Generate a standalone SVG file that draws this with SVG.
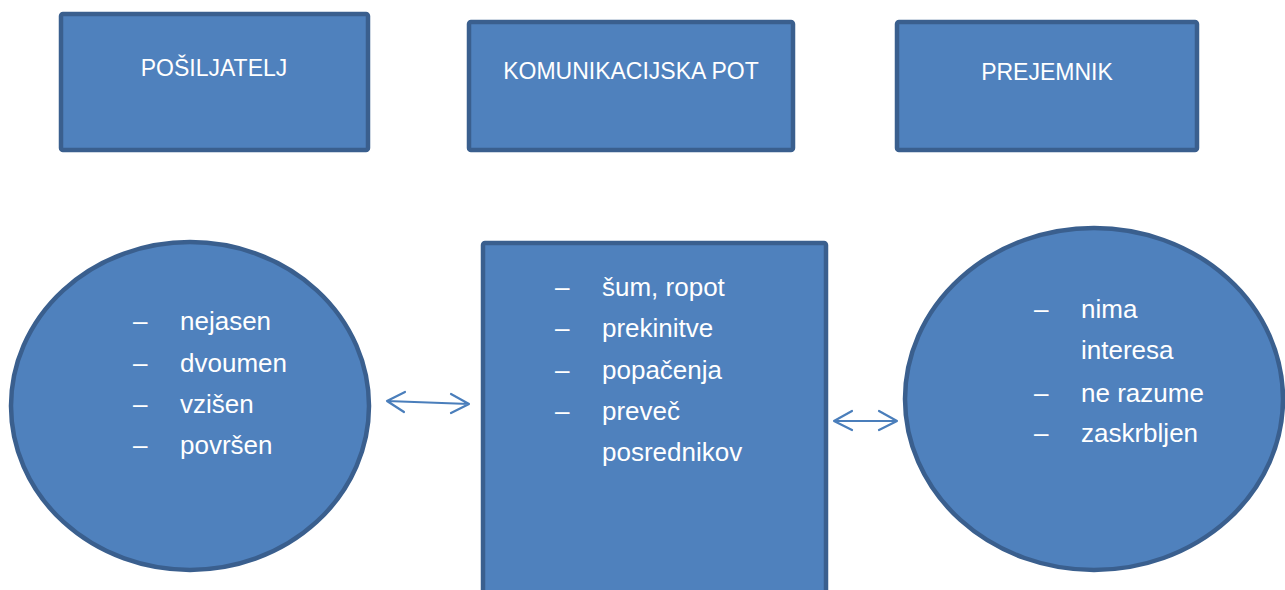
<svg xmlns="http://www.w3.org/2000/svg" width="1285" height="590" viewBox="0 0 1285 590">
<style>
.shape{fill:#4F81BD;stroke:#3A5F8E;stroke-width:4.5}
.t{fill:#FFFFFF;font-family:"Liberation Sans",Arial,sans-serif}
.h{font-size:23px;text-anchor:middle}
.b{font-size:26px}
.conn{fill:none;stroke:#4A7EBB;stroke-width:2.2;stroke-linecap:round;stroke-linejoin:round}
</style>
<rect width="1285" height="590" fill="#FFFFFF"/>
<g id="posiljatelj">
<rect class="shape" x="61" y="14" width="307" height="136" rx="2"/>
<text class="t h" x="214" y="76">POŠILJATELJ</text>
</g>
<g id="komunikacijska-pot">
<rect class="shape" x="469" y="22" width="324" height="128" rx="2"/>
<text class="t h" x="631" y="79">KOMUNIKACIJSKA POT</text>
</g>
<g id="prejemnik">
<rect class="shape" x="897" y="22" width="300" height="128" rx="2"/>
<text class="t h" x="1047" y="80">PREJEMNIK</text>
</g>
<g id="posiljatelj-lastnosti">
<ellipse class="shape" cx="190" cy="406" rx="179" ry="164"/>
<text class="t b" x="133" y="330">–</text><text class="t b" x="180" y="330">nejasen</text>
<text class="t b" x="133" y="372">–</text><text class="t b" x="180" y="372">dvoumen</text>
<text class="t b" x="133" y="413">–</text><text class="t b" x="180" y="413">vzišen</text>
<text class="t b" x="133" y="454">–</text><text class="t b" x="180" y="454">površen</text>
</g>
<g id="pot-motnje">
<rect class="shape" x="483" y="243" width="343" height="360" rx="2"/>
<text class="t b" x="555" y="296">–</text><text class="t b" x="602" y="296">šum, ropot</text>
<text class="t b" x="555" y="337">–</text><text class="t b" x="602" y="337">prekinitve</text>
<text class="t b" x="555" y="379">–</text><text class="t b" x="602" y="379">popačenja</text>
<text class="t b" x="555" y="420">–</text><text class="t b" x="602" y="420">preveč</text>
<text class="t b" x="602" y="461">posrednikov</text>
</g>
<g id="prejemnik-lastnosti">
<ellipse class="shape" cx="1094" cy="399" rx="189" ry="171"/>
<text class="t b" x="1034" y="318">–</text><text class="t b" x="1081" y="318">nima</text>
<text class="t b" x="1081" y="359">interesa</text>
<text class="t b" x="1034" y="402">–</text><text class="t b" x="1081" y="402">ne razume</text>
<text class="t b" x="1034" y="442">–</text><text class="t b" x="1081" y="442">zaskrbljen</text>
</g>
<g id="connectors">
<path class="conn" d="M387,401 L469,404 M405,392 L387,401 L404,412 M451,394 L469,404 L451,413"/>
<path class="conn" d="M834,421 L897,421 M852,411 L834,421 L852,430 M879,411 L897,421 L879,430"/>
</g>
</svg>
